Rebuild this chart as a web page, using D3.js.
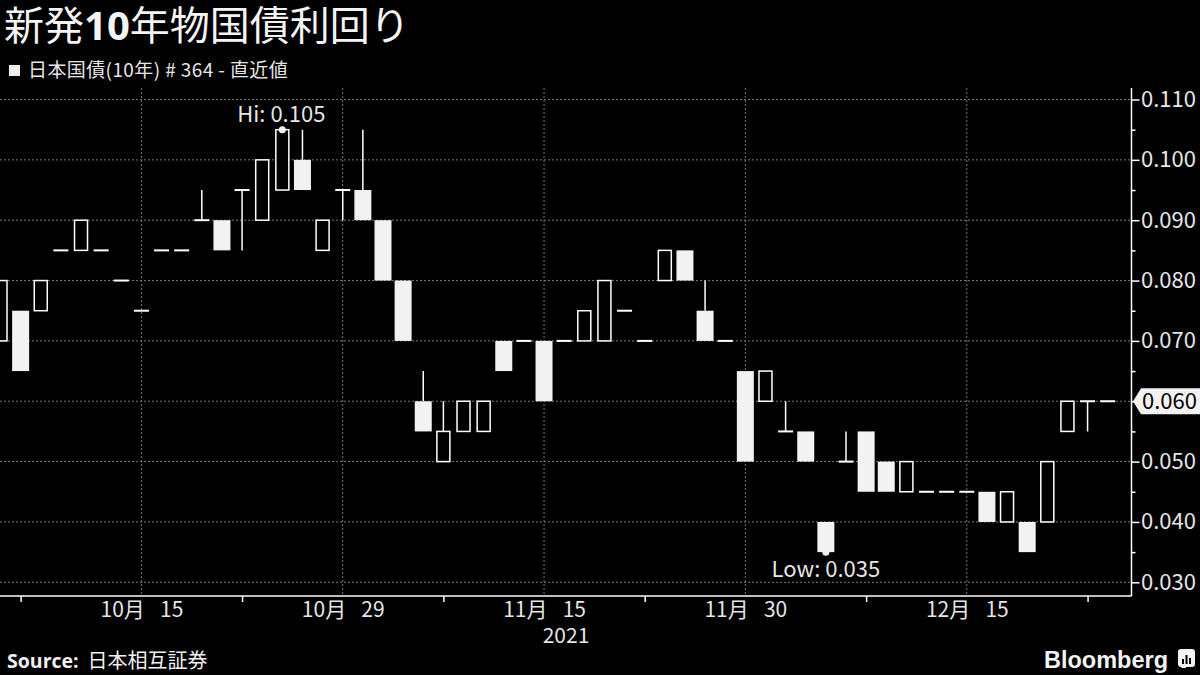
<!DOCTYPE html>
<html><head><meta charset="utf-8">
<script src="https://cdn.jsdelivr.net/npm/d3@7"></script>
<style>
html,body{margin:0;padding:0;background:#000;}
svg{display:block;font-family:"Noto Sans CJK JP","Noto Sans",sans-serif;}
</style></head><body>
<svg id="chart" width="1200" height="675"></svg>
<script>
// ---- data (2021 trading days) ----
const dates  = ["10/06","10/07","10/08","10/11","10/12","10/13","10/14","10/15","10/18","10/19","10/20","10/21","10/22","10/25","10/26","10/27","10/28","10/29",
                "11/01","11/02","11/04","11/05","11/08","11/09","11/10","11/11","11/12","11/15","11/16","11/17","11/18","11/19","11/22","11/24","11/25","11/26","11/29","11/30",
                "12/01","12/02","12/03","12/06","12/07","12/08","12/09","12/10","12/13","12/14","12/15","12/16","12/17","12/20","12/21","12/22","12/23","12/24"];
const opens  = [0.070,0.075,0.075,0.085,0.085,0.085,0.080,0.075,0.085,0.085,0.090,0.090,0.095,0.090,0.095,0.100,0.085,0.095,
                0.095,0.090,0.080,0.060,0.050,0.055,0.055,0.070,0.070,0.070,0.070,0.070,0.070,0.075,0.070,0.080,0.085,0.075,0.070,0.065,
                0.060,0.055,0.055,0.040,0.050,0.055,0.050,0.045,0.045,0.045,0.045,0.045,0.040,0.040,0.040,0.055,0.060,0.060];
const highs  = [0.080,0.075,0.080,0.085,0.090,0.085,0.080,0.075,0.085,0.085,0.095,0.090,0.095,0.100,0.105,0.105,0.090,0.095,
                0.105,0.090,0.080,0.065,0.060,0.060,0.060,0.070,0.070,0.070,0.070,0.075,0.080,0.075,0.070,0.085,0.085,0.080,0.070,0.065,
                0.065,0.060,0.055,0.040,0.055,0.055,0.050,0.050,0.045,0.045,0.045,0.045,0.045,0.040,0.050,0.060,0.060,0.060];
const lows   = [0.070,0.065,0.075,0.085,0.085,0.085,0.080,0.075,0.085,0.085,0.090,0.085,0.085,0.090,0.095,0.095,0.085,0.090,
                0.090,0.080,0.070,0.055,0.050,0.055,0.055,0.065,0.070,0.060,0.070,0.070,0.070,0.075,0.070,0.080,0.080,0.070,0.070,0.050,
                0.060,0.055,0.050,0.035,0.050,0.045,0.045,0.045,0.045,0.045,0.045,0.040,0.040,0.035,0.040,0.055,0.055,0.060];
const closes = [0.080,0.065,0.080,0.085,0.090,0.085,0.080,0.075,0.085,0.085,0.090,0.085,0.095,0.100,0.105,0.095,0.090,0.095,
                0.090,0.080,0.070,0.055,0.055,0.060,0.060,0.065,0.070,0.060,0.070,0.075,0.080,0.075,0.070,0.085,0.080,0.070,0.070,0.050,
                0.065,0.055,0.050,0.035,0.050,0.045,0.045,0.050,0.045,0.045,0.045,0.040,0.045,0.035,0.050,0.060,0.060,0.060];

const majorTickDates  = ["10/15","10/29","11/15","11/30","12/15"];
const majorTickLabels = ["10月\u2002 15","10月\u2002 29","11月\u2002 15","11月\u2002 30","12月\u2002 15"];
const minorTickDates  = ["10/07","10/22","11/08","11/22","12/08","12/23"];
const yTicks      = [0.030,0.040,0.050,0.060,0.070,0.080,0.090,0.100,0.110];
const yMinorTicks = [0.035,0.045,0.055,0.065,0.075,0.085,0.095,0.105];
const hiPoint  = {date:"10/26", value:0.105, label:"Hi: 0.105"};
const lowPoint = {date:"12/06", value:0.035, label:"Low: 0.035"};
const lastValue = 0.060;
const yearLabel = "2021";

// ---- layout ----
const svg = d3.select("#chart");
const W = 1200, H = 675;
const plotRight = 1131.5, plotTop = 88, plotBottom = 596;
const x = d3.scalePoint().domain(dates).range([0.5, 1107.7]);
const y = d3.scaleLinear().domain([0.030, 0.110]).range([582.3, 99.5]);
const fg = "#f2f2f2", txt = "#e6e6e6";

svg.append("rect").attr("width",W).attr("height",H).attr("fill","#000");

// title
const title = svg.append("text").attr("x",4).attr("y",40).attr("fill","#f4f4f4").attr("font-size",40);
title.append("tspan").text("新発");
title.append("tspan").attr("font-weight","bold").attr("font-family","'Noto Sans','DejaVu Sans',sans-serif").text("10");
title.append("tspan").text("年物国債利回り");

// legend
svg.append("rect").attr("x",9).attr("y",65).attr("width",11).attr("height",11).attr("fill","#eeeeee");
svg.append("text").attr("x",28).attr("y",77).attr("fill",txt).attr("font-size",19).attr("letter-spacing",0.4).text("日本国債(10年) # 364 - 直近値");

// grid
const grid = svg.append("g");
grid.selectAll("line.h").data(yTicks).join("line")
  .attr("x1",0).attr("x2",plotRight).attr("y1",d=>y(d)).attr("y2",d=>y(d))
  .attr("stroke","#777").attr("stroke-width",1).attr("stroke-dasharray","2,2");
grid.selectAll("line.v").data(majorTickDates).join("line")
  .attr("x1",d=>x(d)).attr("x2",d=>x(d)).attr("y1",plotTop).attr("y2",plotBottom)
  .attr("stroke","#777").attr("stroke-width",1).attr("stroke-dasharray","2,2");

// candles
svg.append("clipPath").attr("id","clip").append("rect").attr("x",0).attr("y",0).attr("width",plotRight).attr("height",plotBottom);
const cg = svg.append("g").attr("clip-path","url(#clip)");
dates.forEach((d,i)=>{
  const o=opens[i], c=closes[i], h=highs[i], l=lows[i], cx=x(d);
  const top=Math.max(o,c), bot=Math.min(o,c);
  if (h>top) cg.append("line").attr("x1",cx).attr("x2",cx).attr("y1",y(h)).attr("y2",y(top)).attr("stroke","#fff").attr("stroke-width",1.5);
  if (l<bot) cg.append("line").attr("x1",cx).attr("x2",cx).attr("y1",y(bot)).attr("y2",y(l)).attr("stroke","#fff").attr("stroke-width",1.5);
  if (o===c) {
    cg.append("line").attr("x1",cx-7.5).attr("x2",cx+7.5).attr("y1",y(o)).attr("y2",y(o)).attr("stroke","#fff").attr("stroke-width",2);
  } else if (c>o) {
    cg.append("rect").attr("x",cx-6.5).attr("y",y(top)).attr("width",13).attr("height",y(bot)-y(top))
      .attr("fill","#000").attr("stroke","#fff").attr("stroke-width",1.5);
  } else {
    cg.append("rect").attr("x",cx-8.5).attr("y",y(top)).attr("width",17).attr("height",y(bot)-y(top)).attr("fill",fg);
  }
});

// hi / low markers
svg.append("circle").attr("cx",x(hiPoint.date)).attr("cy",y(hiPoint.value)).attr("r",3.5).attr("fill",fg);
svg.append("text").attr("x",x(hiPoint.date)-1).attr("y",122).attr("text-anchor","middle").attr("fill",txt).attr("font-size",22).text(hiPoint.label);
svg.append("circle").attr("cx",x(lowPoint.date)).attr("cy",y(lowPoint.value)).attr("r",3.5).attr("fill",fg);
svg.append("text").attr("x",x(lowPoint.date)).attr("y",577).attr("text-anchor","middle").attr("fill",txt).attr("font-size",22).text(lowPoint.label);

// y axis (right)
const yAxisG = svg.append("g").attr("transform",`translate(${plotRight},0)`)
  .call(d3.axisRight(y).tickValues(yTicks).tickSize(8).tickPadding(1.5).tickFormat(d3.format(".3f")));
yAxisG.select(".domain").remove();
yAxisG.selectAll("line").attr("stroke","#fff").attr("stroke-width",1.5);
yAxisG.selectAll("text").attr("fill",txt).attr("font-size",22).attr("font-family","'Noto Sans CJK JP',sans-serif");
const yMinorG = svg.append("g").attr("transform",`translate(${plotRight},0)`)
  .call(d3.axisRight(y).tickValues(yMinorTicks).tickSize(4).tickFormat(""));
yMinorG.select(".domain").remove();
yMinorG.selectAll("line").attr("stroke","#fff").attr("stroke-width",1.5);
svg.append("line").attr("x1",plotRight).attr("x2",plotRight).attr("y1",plotTop).attr("y2",plotBottom).attr("stroke","#fff").attr("stroke-width",1.5);

// x axis
svg.append("line").attr("x1",0).attr("x2",plotRight).attr("y1",plotBottom).attr("y2",plotBottom).attr("stroke","#fff").attr("stroke-width",1.5);
const xMinorG = svg.append("g").attr("transform",`translate(0,${plotBottom})`)
  .call(d3.axisBottom(x).tickValues(minorTickDates).tickSize(6).tickFormat(""));
xMinorG.select(".domain").remove();
xMinorG.selectAll("line").attr("stroke","#fff").attr("stroke-width",1.5);
const xMajorG = svg.append("g").attr("transform",`translate(0,${plotBottom})`)
  .call(d3.axisBottom(x).tickValues(majorTickDates).tickSize(0).tickPadding(6)
        .tickFormat(d=>majorTickLabels[majorTickDates.indexOf(d)]));
xMajorG.select(".domain").remove();
xMajorG.selectAll("text").attr("fill",txt).attr("font-size",21).attr("font-family","'Noto Sans CJK JP',sans-serif").style("white-space","pre");
svg.append("text").attr("x",566).attr("y",643).attr("text-anchor","middle").attr("fill",txt).attr("font-size",21).text(yearLabel);

// last value tag
const ly = y(lastValue);
svg.append("path").attr("d",`M1133,${ly} L1141,${ly-13} L1200,${ly-13} L1200,${ly+13} L1141,${ly+13} Z`).attr("fill",fg);
svg.append("text").attr("x",1142).attr("y",ly+8).attr("fill","#000").attr("font-size",22).text(d3.format(".3f")(lastValue));

// footer
const src = svg.append("text").attr("x",7).attr("y",668).attr("fill","#f0f0f0");
src.append("tspan").attr("font-weight","bold").attr("font-size",19.5).attr("font-family","'Open Sans','Noto Sans',sans-serif").text("Source:");
src.append("tspan").attr("dx",9).attr("font-size",20).text("日本相互証券");
svg.append("text").attr("x",1168).attr("y",668).attr("text-anchor","end").attr("fill","#f4f4f4")
  .attr("font-family","'Liberation Sans',Arial,sans-serif").attr("font-weight","bold").attr("font-size",23.5).text("Bloomberg");
const logo = svg.append("g").attr("transform","translate(1178,649)");
logo.append("rect").attr("width",17).attr("height",18).attr("rx",3).attr("fill","#f4f4f4");
logo.append("path").attr("d","M3,19 L8,14 L8,19 Z").attr("fill","#f4f4f4");
[[4,10,2,5],[7.5,6,2,9],[11,9,2,6]].forEach(b=>logo.append("rect").attr("x",b[0]).attr("y",b[1]).attr("width",b[2]).attr("height",b[3]).attr("fill","#000"));
</script>
</body></html>
